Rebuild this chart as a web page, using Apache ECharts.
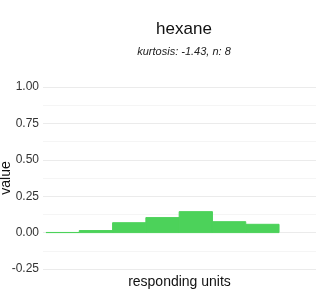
<!DOCTYPE html>
<html><head><meta charset="utf-8">
<script src="https://cdn.jsdelivr.net/npm/echarts@6/dist/echarts.min.js"></script>
<style>html,body{margin:0;padding:0;background:#fff}#c{width:320px;height:300px}</style>
</head><body><div id="c"></div>
<script>
const titleText = "hexane";
const subtitleText = "kurtosis: -1.43, n: 8";
const binStarts = [1, 2, 3, 4, 5, 6, 7];
const binEnds = [2, 3, 4, 5, 6, 7, 8];
const values = [0.001, 0.014, 0.068, 0.103, 0.144, 0.075, 0.057];
const yTicks = [-0.25, 0, 0.25, 0.5, 0.75, 1];

const font = "Liberation Sans";
const green = '#4cd25a';
const chart = echarts.init(document.getElementById('c'), null, {renderer: 'canvas'});
chart.setOption({
  animation: false,
  backgroundColor: '#fff',
  title: {
    text: titleText,
    subtext: subtitleText,
    left: 179, textAlign: 'center', top: 16,
    textStyle: {fontFamily: font, fontSize: 17, fontWeight: 'normal', color: '#111'},
    subtextStyle: {fontFamily: font, fontSize: 11, fontStyle: 'italic', color: '#222'},
    itemGap: 8
  },
  grid: {left: 43, right: 4, top: 87, bottom: 31, containLabel: false, outerBoundsMode: 'none'},
  xAxis: {
    type: 'value', min: 0.91, max: 9.11,
    name: 'responding units', nameLocation: 'middle', nameGap: 6,
    nameTextStyle: {fontFamily: font, fontSize: 14, color: '#111'},
    axisLine: {show: false}, axisTick: {show: false}, axisLabel: {show: false},
    splitLine: {show: false}
  },
  yAxis: {
    type: 'value', min: yTicks[0], max: yTicks[yTicks.length - 1], interval: 0.25,
    name: 'value', nameLocation: 'middle', nameGap: 30, nameMoveOverlap: false,
    nameTextStyle: {fontFamily: font, fontSize: 14, color: '#111'},
    axisLine: {show: false}, axisTick: {show: false},
    axisLabel: {fontFamily: font, fontSize: 12, color: '#333', margin: 4,
      formatter: v => v.toFixed(2)},
    splitLine: {lineStyle: {color: '#ebebeb', width: 1}},
    minorTick: {show: false, splitNumber: 2},
    minorSplitLine: {show: true, lineStyle: {color: '#f5f5f5', width: 1}}
  },
  series: [{
    type: 'custom',
    data: binStarts.map((s, i) => [s, binEnds[i], values[i]]),
    encode: {x: [0, 1], y: 2},
    renderItem: function (params, api) {
      const p0 = api.coord([api.value(0), 0]);
      const p1 = api.coord([api.value(1), api.value(2)]);
      return {
        type: 'rect',
        shape: {x: p0[0], y: p1[1], width: p1[0] - p0[0], height: p0[1] - p1[1]},
        style: {fill: green, stroke: green, lineWidth: 1}
      };
    }
  }]
});
</script></body></html>
